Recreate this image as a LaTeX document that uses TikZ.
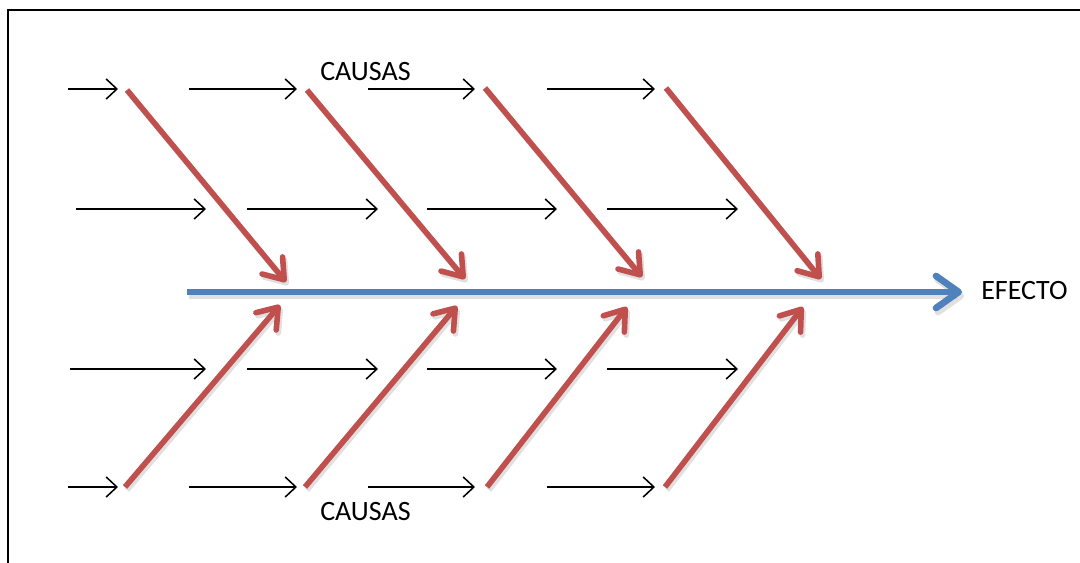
\documentclass[tikz,border=0pt]{standalone}
\usepackage{fontspec}
\setmainfont{Carlito}
\usetikzlibrary{arrows.meta}
\definecolor{fbred}{RGB}{192,80,77}
\definecolor{fbblue}{RGB}{79,129,189}
\tikzset{
  cause/.style={line width=1.15pt,black,-{Straight Barb[length=8pt,width=15pt,line width=1.15pt]}},
  bone/.style={line width=4.2pt,fbred,line cap=butt,-{Straight Barb[length=14pt,width=20pt,line cap=round,line join=round]}},
  boneshadow/.style={line width=4.2pt,black,opacity=0.12,-{Straight Barb[length=14pt,width=20pt,line cap=round,line join=round]}},
  spine/.style={line width=5pt,fbblue,-{Straight Barb[length=17pt,width=24pt,line cap=round,line join=round]}},
  lbl/.style={font=\fontsize{21}{25}\selectfont,inner sep=0pt}
}
\begin{document}
\begin{tikzpicture}[x=0.75pt,y=-0.75pt]
\useasboundingbox (0,0) rectangle (1080,563);
% frame
\draw[line width=2pt] (8,563) -- (8,10) -- (1080,10);
% coordinates of the bones
\coordinate (t1s) at (127,90);  \coordinate (t1e) at (286,282);
\coordinate (t2s) at (307,90);  \coordinate (t2e) at (465,279);
\coordinate (t3s) at (485,88);  \coordinate (t3e) at (642,277);
\coordinate (t4s) at (666,88);  \coordinate (t4e) at (821,279);
\coordinate (b1s) at (125,487); \coordinate (b1e) at (280,305);
\coordinate (b2s) at (305,487); \coordinate (b2e) at (457,306);
\coordinate (b3s) at (487,487); \coordinate (b3e) at (627,307);
\coordinate (b4s) at (665,487); \coordinate (b4e) at (803,307);
\coordinate (sps) at (187,292); \coordinate (spe) at (962,292);
% shadows
\foreach \n in {t1,t2,t3,t4,b1,b2,b3,b4}{
  \draw[boneshadow] ([shift={(2,3)}]\n s) -- ([shift={(2,3)}]\n e);
}
\draw[line width=5pt,black,opacity=0.12,-{Straight Barb[length=17pt,width=24pt,line cap=round,line join=round]}] ([shift={(2,4)}]sps) -- ([shift={(2,4)}]spe);
% spine
\draw[spine] (sps) -- (spe);
\node[lbl,anchor=west] (efecto) at (981,291) {EFECTO};
% bones
\foreach \n in {t1,t2,t3,t4,b1,b2,b3,b4}{
  \draw[bone] (\n s) -- (\n e);
}
% sub-causes
\foreach \y/\r in {89/a,487/d}{
  \coordinate (\r1s) at (68,\y);  \coordinate (\r1e) at (118,\y);
  \coordinate (\r2s) at (189,\y); \coordinate (\r2e) at (297,\y);
  \coordinate (\r3s) at (368,\y); \coordinate (\r3e) at (475,\y);
  \coordinate (\r4s) at (547,\y); \coordinate (\r4e) at (655,\y);
}
\foreach \y/\r/\xa in {209/b/76,369/c/70}{
  \coordinate (\r1s) at (\xa,\y); \coordinate (\r1e) at (206,\y);
  \coordinate (\r2s) at (247,\y); \coordinate (\r2e) at (378,\y);
  \coordinate (\r3s) at (427,\y); \coordinate (\r3e) at (557,\y);
  \coordinate (\r4s) at (607,\y); \coordinate (\r4e) at (738,\y);
}
\foreach \r in {a,b,c,d}{
  \foreach \i in {1,2,3,4}{
    \draw[cause] (\r\i s) -- (\r\i e);
  }
}
\node[lbl,anchor=west] (causastop) at (320,72) {CAUSAS};
\node[lbl,anchor=west] (causasbot) at (320,512) {CAUSAS};
\end{tikzpicture}
\end{document}
